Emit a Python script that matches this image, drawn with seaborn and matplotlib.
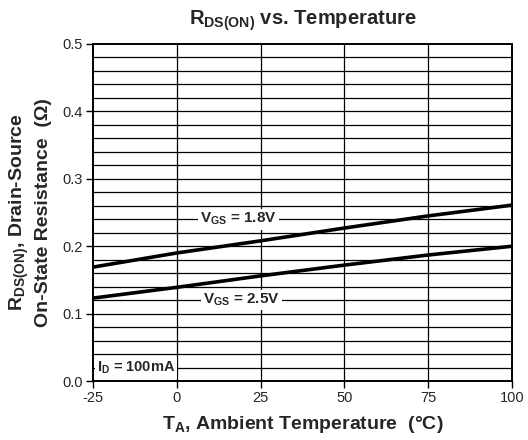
import matplotlib
matplotlib.use("Agg")
import matplotlib.pyplot as plt
import seaborn as sns
import pandas as pd
import numpy as np

temps = [-25, 0, 25, 50, 75, 100]
rds_18 = [0.169, 0.190, 0.208, 0.227, 0.245, 0.261]
rds_25 = [0.123, 0.139, 0.156, 0.172, 0.187, 0.200]
x_ticks = [-25, 0, 25, 50, 75, 100]
y_ticks = [0.0, 0.1, 0.2, 0.3, 0.4, 0.5]

sns.set_theme(style="white")
plt.rcParams['font.family'] = ['Liberation Sans', 'DejaVu Sans']
plt.rcParams['mathtext.fontset'] = 'custom'
plt.rcParams['mathtext.rm'] = 'Liberation Sans'
plt.rcParams['mathtext.bf'] = 'Liberation Sans:bold'
plt.rcParams['mathtext.it'] = 'Liberation Sans:italic'

df = pd.DataFrame({
    "T": temps * 2,
    "R": rds_18 + rds_25,
    "V": ["1.8V"] * len(temps) + ["2.5V"] * len(temps),
})

fig = plt.figure(figsize=(5.28, 4.40), dpi=100)
ax = fig.add_axes([0.176, 0.134, 0.794, 0.766])

# grid
for yv in np.arange(0.02, 0.5, 0.02):
    ax.axhline(yv, color="black", lw=0.9, zorder=1)
for xv in x_ticks[1:-1]:
    ax.axvline(xv, color="black", lw=0.9, zorder=1)

sns.lineplot(data=df, x="T", y="R", hue="V", palette=["black", "black"],
             linewidth=2.6, legend=False, ax=ax, zorder=3)

ax.set_xlim(-25, 100)
ax.set_ylim(0, 0.5)
ax.set_xticks(x_ticks)
ax.set_xticklabels([str(v) for v in x_ticks], fontsize=10.5)
ax.set_yticks(y_ticks)
ax.set_yticklabels([f"{v:.1f}" for v in y_ticks], fontsize=10.5)
ax.tick_params(axis="both", direction="out", length=5, width=1, color="black",
               left=True, bottom=True, pad=2)
for s in ax.spines.values():
    s.set_color("black")
    s.set_linewidth(1.4)

bbox = dict(facecolor="white", edgecolor="none", pad=1.5)
ax.text(18.3, 0.24, r"$\mathbf{V_{GS}}$ = 1.8V", fontsize=11, fontweight="bold",
        ha="center", va="center", bbox=bbox, zorder=4)
ax.text(19.2, 0.12, r"$\mathbf{V_{GS}}$ = 2.5V", fontsize=11, fontweight="bold",
        ha="center", va="center", bbox=bbox, zorder=4)
ax.text(-12.2, 0.02, r"$\mathbf{I_{D}}$ = 100mA", fontsize=10.5, fontweight="bold",
        ha="center", va="center", bbox=bbox, zorder=4)

ax.set_title(r"$\mathbf{R_{DS(ON)}}$ vs. Temperature", fontsize=14.5,
             fontweight="bold", pad=14)
ax.set_xlabel(r"$\mathbf{T_{A}}$, Ambient Temperature  (°C)", fontsize=14,
              fontweight="bold", labelpad=7)
ax.set_ylabel(r"$\mathbf{R_{DS(ON)}}$, Drain-Source" + "\n" + "On-State Resistance  (Ω)",
              fontsize=14, fontweight="bold", labelpad=8, linespacing=1.3)

fig.savefig("out.png", dpi=100, facecolor="white")
